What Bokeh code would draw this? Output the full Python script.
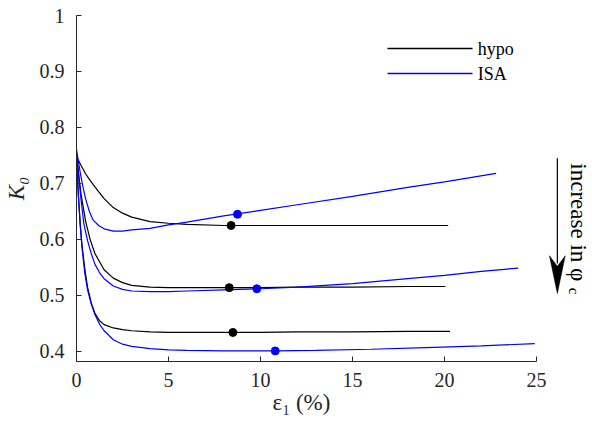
import numpy as np
from bokeh.plotting import figure
from bokeh.models import Range1d, FixedTicker, Title
from bokeh.core.properties import value
from bokeh.embed import file_html
from bokeh.resources import INLINE

# ---------------- data ----------------
hypo1_x = [0, 0.25, 0.5, 0.75, 1, 1.5, 2, 2.5, 3, 4, 5, 6, 8, 10, 12, 15, 18, 20.2]
hypo1_y = [0.748, 0.732, 0.717, 0.705, 0.694, 0.673, 0.657, 0.647, 0.640, 0.632, 0.629, 0.627,
           0.625, 0.625, 0.625, 0.625, 0.625, 0.625]

isa1_x = [0, 0.1, 0.2, 0.35, 0.5, 0.7, 0.9, 1.2, 1.5, 2, 2.5, 3, 4, 5, 6, 8, 10, 12, 15, 18, 20, 22.8]
isa1_y = [0.761, 0.740, 0.720, 0.694, 0.672, 0.650, 0.635, 0.625, 0.619, 0.615, 0.615, 0.617,
          0.620, 0.626, 0.631, 0.642, 0.652, 0.662, 0.677, 0.693, 0.703, 0.718]

hypo2_x = [0, 0.25, 0.5, 0.75, 1, 1.5, 2, 2.5, 3, 4, 5, 6, 8, 10, 12, 15, 18, 20.05]
hypo2_y = [0.748, 0.680, 0.632, 0.599, 0.575, 0.546, 0.531, 0.523, 0.518, 0.515, 0.514, 0.514,
           0.514, 0.514, 0.515, 0.515, 0.516, 0.516]

isa2_x = [0, 0.1, 0.25, 0.4, 0.6, 0.8, 1, 1.25, 1.5, 2, 2.5, 3, 4, 5, 6, 8, 10, 12, 15, 18, 20, 22, 24]
isa2_y = [0.755, 0.720, 0.670, 0.628, 0.598, 0.575, 0.556, 0.541, 0.530, 0.517, 0.511, 0.508,
          0.507, 0.507, 0.508, 0.510, 0.512, 0.515, 0.521, 0.530, 0.536, 0.543, 0.549]

hypo3_x = [0, 0.1, 0.2, 0.3, 0.45, 0.6, 0.8, 1, 1.25, 1.5, 2, 2.5, 3, 4, 5, 6, 8, 10, 12, 15, 18, 20.3]
hypo3_y = [0.748, 0.680, 0.630, 0.590, 0.548, 0.515, 0.487, 0.468, 0.455, 0.448, 0.442, 0.439,
           0.437, 0.435, 0.434, 0.434, 0.434, 0.434, 0.435, 0.435, 0.436, 0.436]

isa3_x = [0, 0.1, 0.2, 0.3, 0.45, 0.6, 0.8, 1, 1.25, 1.5, 2, 2.5, 3, 4, 5, 6, 8, 10.8, 13, 16, 19, 22, 24.9]
isa3_y = [0.755, 0.680, 0.625, 0.585, 0.540, 0.510, 0.485, 0.466, 0.449, 0.437, 0.421, 0.413,
          0.409, 0.405, 0.403, 0.402, 0.401, 0.401, 0.402, 0.404, 0.407, 0.410, 0.414]

hypo_dot_x = [8.4, 8.3, 8.5]
hypo_dot_y = [0.625, 0.514, 0.434]
isa_dot_x = [8.75, 9.8, 10.8]
isa_dot_y = [0.645, 0.512, 0.401]

x_ticks = [0, 5, 10, 15, 20, 25]
y_ticks = [0.4, 0.5, 0.6, 0.7, 0.8, 0.9, 1.0]
y_tick_labels = ["0.4", "0.5", "0.6", "0.7", "0.8", "0.9", "1"]

legend_labels = ["hypo", "ISA"]
x_label = "ε₁ (%)"
y_label = "K₀"
annotation_text = "increase in φ"
annotation_sub = "c"

# ---------------- figure ----------------
FONT = "Liberation Serif"
AX = "#262626"
BLACK = "#000000"
BLUE = "#0000FF"
LW = 1.2

p = figure(width=592, height=424, output_backend="svg", toolbar_location=None,
           x_range=Range1d(0, 28.04), y_range=Range1d(0.3821, 1.0),
           min_border_left=76, min_border_right=0, min_border_top=15, min_border_bottom=63)
p.outline_line_color = None
p.grid.visible = False
p.background_fill_color = "white"
p.border_fill_color = "white"

for ax in (p.xaxis[0], p.yaxis[0]):
    ax.axis_line_color = AX
    ax.axis_line_width = 1
    ax.major_tick_line_color = AX
    ax.major_tick_in = 5
    ax.major_tick_out = 0
    ax.minor_tick_line_color = None
    ax.major_label_text_font = FONT
    ax.major_label_text_font_size = "20px"
    ax.major_label_text_color = AX
    ax.axis_label_text_font = FONT
    ax.axis_label_text_font_size = "23px"
    ax.axis_label_text_color = AX

p.xaxis.ticker = FixedTicker(ticks=x_ticks)
p.xaxis.bounds = (0, 25)
p.xaxis.major_label_standoff = 11

# x-axis label as a left-aligned title below, so it centres under 0..25
p.add_layout(Title(text=x_label, align="left", offset=196, standoff=0, vertical_align="top",
                   text_font=FONT, text_font_size="23px", text_font_style="normal",
                   text_color=AX), "below")

p.yaxis.ticker = FixedTicker(ticks=y_ticks)
p.yaxis.major_label_overrides = {t: l for t, l in zip(y_ticks, y_tick_labels)}
p.yaxis.axis_label = y_label
p.yaxis.axis_label_text_font_style = "italic"
p.yaxis.major_label_standoff = 12
p.yaxis.axis_label_standoff = 8

p.line(hypo1_x, hypo1_y, line_color=BLACK, line_width=LW)
p.line(hypo2_x, hypo2_y, line_color=BLACK, line_width=LW)
p.line(hypo3_x, hypo3_y, line_color=BLACK, line_width=LW)
p.line(isa1_x, isa1_y, line_color=BLUE, line_width=LW)
p.line(isa2_x, isa2_y, line_color=BLUE, line_width=LW)
p.line(isa3_x, isa3_y, line_color=BLUE, line_width=LW)

p.scatter(hypo_dot_x, hypo_dot_y, size=8, color=BLACK)
p.scatter(isa_dot_x, isa_dot_y, size=8, color=BLUE)

# legend (line samples + labels, top right)
leg_x0, leg_x1, leg_tx = 16.9, 21.52, 21.8
leg_y = [0.941, 0.8964]
leg_colors = [BLACK, BLUE]
for yy, cc in zip(leg_y, leg_colors):
    p.line([leg_x0, leg_x1], [yy, yy], line_color=cc, line_width=1.4)
p.text(x=[leg_tx] * 2, y=leg_y, text=legend_labels, text_font=value(FONT),
       text_font_size="18px", text_align="left", text_baseline="middle", text_color=BLACK)

# arrow annotation (decoration)
arr_x = 26.13
arr_y0, arr_tip, arr_back, arr_notch, arr_hw = 0.745, 0.5036, 0.571, 0.552, 0.43
p.segment(x0=[arr_x], y0=[arr_y0], x1=[arr_x], y1=[arr_notch + 0.005], line_color=BLACK, line_width=1.2)
p.patch([arr_x, arr_x - arr_hw, arr_x, arr_x + arr_hw],
        [arr_tip, arr_back, arr_notch, arr_back], color=BLACK, line_width=0.5)

p.text(x=[27.3], y=[0.736], text=[annotation_text], angle=-np.pi / 2,
       text_font=value(FONT), text_font_size="23px", text_align="left",
       text_baseline="middle", text_color=BLACK)
p.text(x=[27.05], y=[0.514], text=[annotation_sub], angle=-np.pi / 2,
       text_font=value(FONT), text_font_size="15px", text_align="left",
       text_baseline="middle", text_color=BLACK)

open("out.html", "w").write(file_html(p, INLINE))
